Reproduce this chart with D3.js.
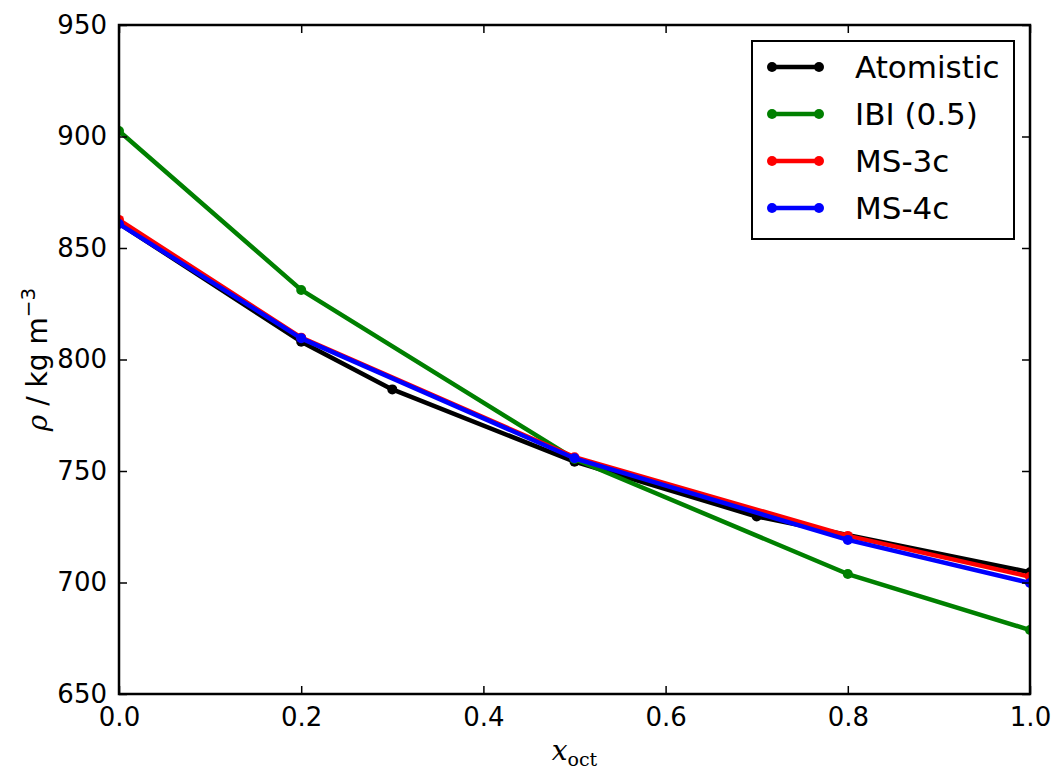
<!DOCTYPE html>
<html>
<head>
<meta charset="utf-8">
<script src="https://cdn.jsdelivr.net/npm/d3@7"></script>
<style>
  body { margin: 0; background: #fff; }
  text { font-family: "DejaVu Sans", sans-serif; fill: #000; }
</style>
</head>
<body>
<div id="chart"></div>
<script>
// Chart data
var seriesNames = ["Atomistic", "IBI (0.5)", "MS-3c", "MS-4c"];
var seriesColors = ["#000000", "#008000", "#ff0000", "#0000ff"];

var atomisticX = [0.0, 0.2, 0.3, 0.5, 0.7, 1.0];
var atomisticY = [861.0, 808.0, 786.6, 754.2, 729.6, 704.6];

var cgX = [0.0, 0.2, 0.5, 0.8, 1.0];
var ibiY = [902.5, 831.2, 755.4, 703.8, 678.7];
var ms3cY = [862.6, 809.8, 756.2, 720.9, 702.6];
var ms4cY = [860.8, 809.5, 755.7, 719.1, 699.8];

var xTicks = [0.0, 0.2, 0.4, 0.6, 0.8, 1.0];
var yTicks = [650, 700, 750, 800, 850, 900, 950];

var svgWidth = 1054;
var svgHeight = 771;
var margin = { top: 25, right: 24, bottom: 77, left: 119 };
var width = svgWidth - margin.left - margin.right;
var height = svgHeight - margin.top - margin.bottom;

var svg = d3.select("#chart").append("svg")
    .attr("width", svgWidth)
    .attr("height", svgHeight);

var chartGroup = svg.append("g")
    .attr("transform", `translate(${margin.left}, ${margin.top})`);

var x = d3.scaleLinear().domain([0, 1]).range([0, width]);
var y = d3.scaleLinear().domain([650, 950]).range([height, 0]);

// series built from the arrays
var series = [
    { xs: atomisticX, ys: atomisticY },
    { xs: cgX, ys: ibiY },
    { xs: cgX, ys: ms3cY },
    { xs: cgX, ys: ms4cY }
].map(function(s, i) {
    return {
        name: seriesNames[i],
        color: seriesColors[i],
        points: s.xs.map(function(v, j) { return [v, s.ys[j]]; })
    };
});

// clip so markers on the frame edges are cut like matplotlib
chartGroup.append("clipPath").attr("id", "plotclip")
    .append("rect").attr("width", width).attr("height", height);

var line = d3.line().x(d => x(d[0])).y(d => y(d[1]));

var plot = chartGroup.append("g").attr("clip-path", "url(#plotclip)");

series.forEach(function(s) {
    plot.append("path")
        .datum(s.points)
        .attr("fill", "none")
        .attr("stroke", s.color)
        .attr("stroke-width", 4.5)
        .attr("stroke-linejoin", "round")
        .attr("d", line);
    plot.selectAll(null)
        .data(s.points)
        .enter()
        .append("circle")
        .attr("cx", d => x(d[0]))
        .attr("cy", d => y(d[1]))
        .attr("r", 5)
        .attr("fill", s.color);
});

// axes, ticks inward on all four sides
var tickLen = 8;
var bottomAxis = d3.axisBottom(x).tickValues(xTicks).tickFormat(d3.format(".1f"))
    .tickSizeInner(-tickLen).tickSizeOuter(0).tickPadding(14);
var topAxis = d3.axisTop(x).tickValues(xTicks).tickFormat("")
    .tickSizeInner(-tickLen).tickSizeOuter(0);
var leftAxis = d3.axisLeft(y).tickValues(yTicks).tickFormat(d3.format("d"))
    .tickSizeInner(-tickLen).tickSizeOuter(0).tickPadding(12);
var rightAxis = d3.axisRight(y).tickValues(yTicks).tickFormat("")
    .tickSizeInner(-tickLen).tickSizeOuter(0);

function styleAxis(g) {
    g.select(".domain").remove();
    g.selectAll(".tick line").attr("stroke", "#000").attr("stroke-width", 1.5);
    g.selectAll(".tick text").attr("font-size", 26).attr("fill", "#000")
        .style("font-family", "DejaVu Sans");
}

chartGroup.append("g").attr("transform", `translate(0, ${height})`).call(bottomAxis).call(styleAxis);
chartGroup.append("g").call(topAxis).call(styleAxis);
chartGroup.append("g").call(leftAxis).call(styleAxis);
chartGroup.append("g").attr("transform", `translate(${width}, 0)`).call(rightAxis).call(styleAxis);

// frame
chartGroup.append("rect")
    .attr("width", width)
    .attr("height", height)
    .attr("fill", "none")
    .attr("stroke", "#000")
    .attr("stroke-width", 2.5);

// axis labels
var yLabel = svg.append("text")
    .attr("transform", `translate(47, ${margin.top + height / 2}) rotate(-90)`)
    .attr("text-anchor", "middle")
    .attr("font-size", 28);
yLabel.append("tspan").attr("font-style", "italic")
    .style("font-family", "DejaVu Serif").text("ρ");
yLabel.append("tspan").text(" / kg m");
yLabel.append("tspan").attr("dy", -12).attr("font-size", 20).text("−3");

var xLabel = svg.append("text")
    .attr("x", margin.left + width / 2)
    .attr("y", 760)
    .attr("text-anchor", "middle")
    .style("font-family", "DejaVu Serif")
    .attr("font-size", 28);
xLabel.append("tspan").attr("font-style", "italic").text("x");
xLabel.append("tspan").attr("dy", 6).attr("font-size", 19).text("oct");

// legend
var legend = svg.append("g");
legend.append("rect")
    .attr("x", 752).attr("y", 41)
    .attr("width", 262).attr("height", 198)
    .attr("fill", "#fff")
    .attr("stroke", "#000")
    .attr("stroke-width", 2);

series.forEach(function(s, i) {
    var ly = 67 + i * 47;
    legend.append("line")
        .attr("x1", 772).attr("x2", 819)
        .attr("y1", ly).attr("y2", ly)
        .attr("stroke", s.color).attr("stroke-width", 4.5);
    [772, 819].forEach(function(cx) {
        legend.append("circle").attr("cx", cx).attr("cy", ly).attr("r", 5).attr("fill", s.color);
    });
    legend.append("text")
        .attr("x", 855).attr("y", ly + 11)
        .attr("font-size", 31)
        .text(s.name);
});
</script>
</body>
</html>
